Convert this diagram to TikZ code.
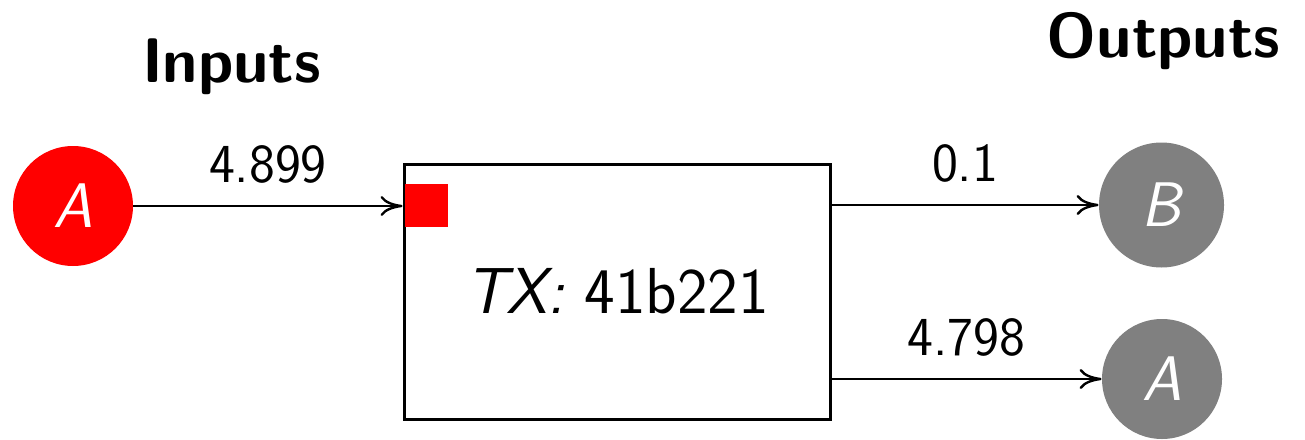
\documentclass[tikz,border=0pt]{standalone}
\usetikzlibrary{arrows.meta}
\begin{document}
\begin{tikzpicture}[x=0.5pt,y=-0.5pt,
  incirc/.style={circle,fill=red,inner sep=0pt,minimum size=60pt,text=white,font=\fontsize{31.5}{36}\selectfont\sffamily\itshape},
  outcirc/.style={circle,fill=black!50,inner sep=0pt,text=white,font=\fontsize{31.5}{36}\selectfont\sffamily\itshape},
  txbox/.style={draw=black,line width=1.5pt,minimum width=213pt,minimum height=127.5pt,inner sep=0pt,font=\fontsize{32.5}{38}\selectfont\sffamily},
  arr/.style={-{Computer Modern Rightarrow[length=11pt,width=10pt,line width=1.2pt]},line width=1.1pt},
  lbl/.style={inner sep=0pt,font=\fontsize{27.5}{32}\selectfont\sffamily},
  head/.style={inner sep=0pt,anchor=base,font=\fontsize{31.5}{36}\selectfont\sffamily\bfseries}]
\useasboundingbox (0,0) rectangle (1305,439);
\node[head] (hin) at (231.5,82) {Inputs};
\node[head] (hout) at (1163.5,57) {Outputs};
\node[incirc] (ia) at (73,206) {A};
\node[txbox] (tx) at (617,291.5) {\textit{TX:} 41b221};
\node[fill=red,minimum size=21.5pt,inner sep=0pt,anchor=north west] (sq) at (405,184) {};
\node[outcirc,minimum size=62.5pt] (ob) at (1161.5,205) {B};
\node[outcirc,minimum size=60pt] (oa) at (1162,379) {A};
\draw[arr] (ia.east) -- (ia.east -| tx.west) node[lbl,midway,above=11pt] (l1) {4.899};
\draw[arr] (tx.east |- ob.west) -- (ob.west) node[lbl,midway,above=11pt] (l2) {0.1};
\draw[arr] (tx.east |- oa.west) -- (oa.west) node[lbl,midway,above=11pt] (l3) {4.798};
\end{tikzpicture}
\end{document}
